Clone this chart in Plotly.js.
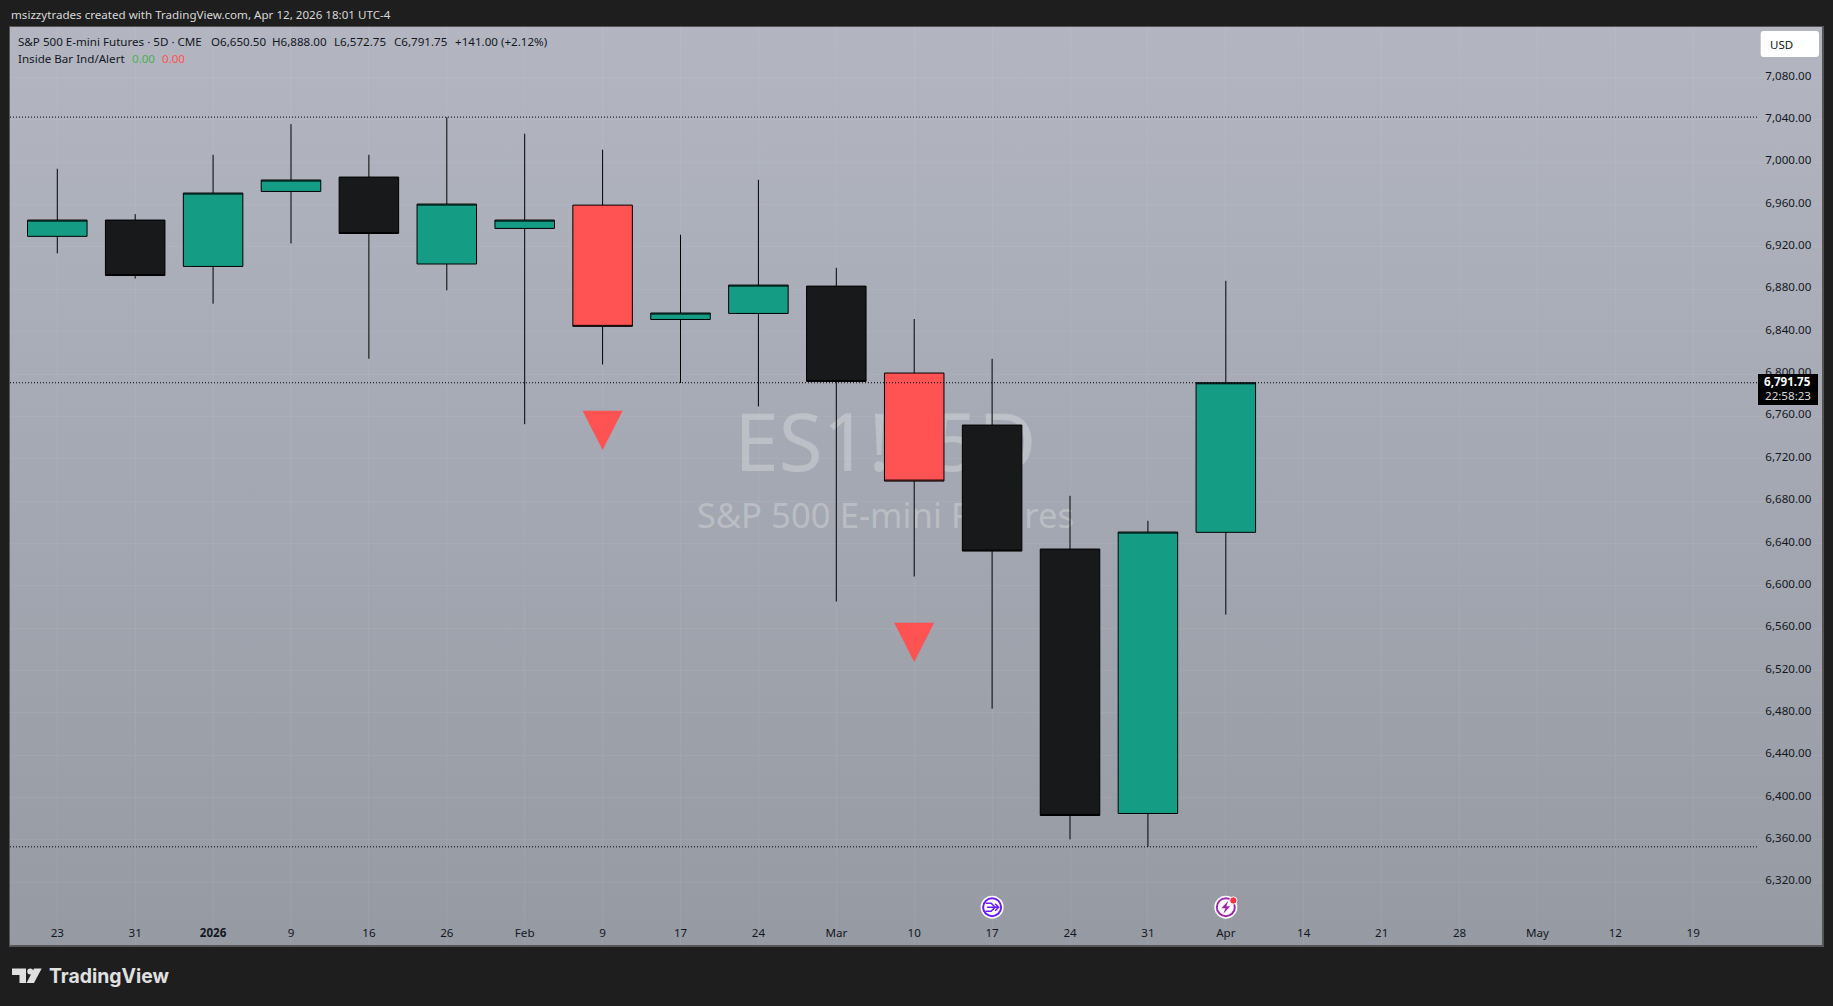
<!DOCTYPE html>
<html>
<head>
<meta charset="utf-8">
<script src="https://cdn.plot.ly/plotly-3.0.1.min.js"></script>
<style>
html,body{margin:0;padding:0;background:#1e1e1e;overflow:hidden;width:1833px;height:1006px}
#bg{position:absolute;left:10px;top:27px;width:1812px;height:918px;background:linear-gradient(#b3b6c1,#969aa3)}
#chart{position:absolute;left:0;top:0;width:1833px;height:1006px}
</style>
</head>
<body>
<div id="bg"></div>
<div id="chart"></div>
<script>
// ---------- data ----------
var barIndex  = [0,1,2,3,4,5,6,7,8,9,10,11,12,13,14,15];
var openS  = [6930.0,6945.4,6901.6,6972.4,6986.0,6903.9,6937.5,6959.5,6851.5,6857.2,6883.0,6800.9,6751.8,6634.7,6385.0,6650.5];
var highS  = [6993.8,6951.0,7007.0,7036.0,7007.0,7042.6,7026.9,7011.8,6931.5,6983.4,6900.3,6851.9,6814.4,6685.0,6661.4,6888.0];
var lowS   = [6913.9,6890.2,6866.4,6923.3,6814.4,6879.0,6752.6,6809.0,6791.5,6769.4,6585.2,6608.8,6483.9,6360.5,6353.5,6572.75];
var closeS = [6945.4,6893.0,6970.9,6983.2,6932.7,6960.5,6945.4,6845.0,6857.6,6884.0,6793.0,6698.9,6632.8,6383.1,6650.75,6791.75];
var insideBars = [7,11];

var signalBars = [7,11];
var signalTop  = [6765.3,6565.1];
var signalTip  = [6728.2,6528.0];

var xTickVals = [0,1,2,3,4,5,6,7,8,9,10,11,12,13,14,15,16,17,18,19,20,21];
var xTickText = ['23','31','<b>2026</b>','9','16','26','Feb','9','17','24','Mar','10','17','24','31','Apr','14','21','28','May','12','19'];
var yTickVals = [6320,6360,6400,6440,6480,6520,6560,6600,6640,6680,6720,6760,6800,6840,6880,6920,6960,7000,7040,7080];

var levelHigh = 7042.6, levelLast = 6791.75, levelLow = 6353.5;
var eventBars = [12,15];
var eventPrice = 6296.5;

// ---------- layout helpers ----------
var PL=10, PT=27, PW=1812, PH=918;
function px(v){return (v-PL)/PW;}
function py(v){return 1-(v-PT)/PH;}
var FONT='"Noto Sans", sans-serif';
var INK='#131722';
var xRange=[-0.607,22.653], yRange=[6260.8,7127.7];
var wmBar=10.63;

function pick(arr,idx){return idx.map(function(i){return arr[i];});}
var normal=barIndex.filter(function(i){return insideBars.indexOf(i)<0;});

var traces=[];
// watermark sits beneath the overlaid candle subplot
traces.push({type:'scatter',mode:'text',x:[wmBar],y:[6727.2],text:['ES1!, 5D'],xaxis:'x',yaxis:'y',
  textfont:{family:FONT,size:80,color:'rgba(255,255,255,0.26)'},textposition:'middle center',hoverinfo:'skip',showlegend:false,cliponaxis:false});
traces.push({type:'scatter',mode:'text',x:[wmBar],y:[6662.7],text:['S&P 500 E-mini Futures'],xaxis:'x',yaxis:'y',
  textfont:{family:FONT,size:34.7,color:'rgba(255,255,255,0.26)'},textposition:'middle center',hoverinfo:'skip',showlegend:false,cliponaxis:false});

traces.push({type:'candlestick',x:normal,open:pick(openS,normal),high:pick(highS,normal),low:pick(lowS,normal),close:pick(closeS,normal),
  xaxis:'x2',yaxis:'y2',whiskerwidth:0,showlegend:false,
  increasing:{line:{color:'#000',width:1},fillcolor:'#159c85'},
  decreasing:{line:{color:'#000',width:1},fillcolor:'#18191b'}});
traces.push({type:'candlestick',x:insideBars,open:pick(openS,insideBars),high:pick(highS,insideBars),low:pick(lowS,insideBars),close:pick(closeS,insideBars),
  xaxis:'x2',yaxis:'y2',whiskerwidth:0,showlegend:false,
  increasing:{line:{color:'#000',width:1},fillcolor:'#ff5252'},
  decreasing:{line:{color:'#000',width:1},fillcolor:'#ff5252'}});

// inside-bar signal triangles
signalBars.forEach(function(b,i){
  traces.push({type:'scatter',mode:'lines',x:[b-0.257,b+0.257,b,b-0.257],y:[signalTop[i],signalTop[i],signalTip[i],signalTop[i]],
    xaxis:'x2',yaxis:'y2',fill:'toself',fillcolor:'#ff5252',line:{width:0,color:'#ff5252'},hoverinfo:'skip',showlegend:false});
});

// event badges
var evY=eventBars.map(function(){return eventPrice;});
traces.push({type:'scatter',mode:'markers',x:eventBars,y:evY,xaxis:'x2',yaxis:'y2',hoverinfo:'skip',showlegend:false,
  marker:{symbol:'circle',size:23,color:'#ffffff'}});
traces.push({type:'scatter',mode:'markers',x:eventBars,y:evY,xaxis:'x2',yaxis:'y2',hoverinfo:'skip',showlegend:false,
  marker:{symbol:'circle',size:18,color:'#ffffff',line:{width:2,color:['#6a1bff','#9c27b0']}}});

var shapes=[];
[levelHigh,levelLast,levelLow].forEach(function(l){
  shapes.push({type:'line',xref:'paper',yref:'y',x0:0,x1:px(1757),y0:l,y1:l,layer:'above',line:{color:'#000',width:1,dash:'1px 2px'}});
});
function rrect(x0,y0,x1,y1,r,fill){
  var rx=r/PW, ry=r/PH, a=px(x0),b=px(x1),t=py(y0),u=py(y1);
  shapes.push({type:'path',xref:'paper',yref:'paper',layer:'above',fillcolor:fill,line:{width:0},
    path:'M'+(a+rx)+' '+t+' L'+(b-rx)+' '+t+' Q'+b+' '+t+' '+b+' '+(t-ry)+' L'+b+' '+(u+ry)+' Q'+b+' '+u+' '+(b-rx)+' '+u+' L'+(a+rx)+' '+u+' Q'+a+' '+u+' '+a+' '+(u+ry)+' L'+a+' '+(t-ry)+' Q'+a+' '+t+' '+(a+rx)+' '+t+' Z'});
}
rrect(1760.7,31,1819,57,3,'#ffffff');
rrect(1758,374,1818,405,0,'#000000');
// icon glyphs anchored on their bars
function iconPath(bar,path,style){
  shapes.push(Object.assign({type:'path',xref:'x2',yref:'y2',xsizemode:'pixel',ysizemode:'pixel',xanchor:bar,yanchor:eventPrice,layer:'above',path:path},style));
}
iconPath(eventBars[0],'M-6.5 4 L-1 4 L3 0 L-1 -4 L-6.5 -4',{line:{color:'#6a1bff',width:1.6}});
iconPath(eventBars[0],'M-5 0 L6 0 M3 3.5 L6.5 0 L3 -3.5',{line:{color:'#6a1bff',width:1.6}});
iconPath(eventBars[1],'M2.5 6.5 L-4.5 -1 L-0.5 -1 L-2.5 -6.5 L4.5 1 L0.5 1 Z',{fillcolor:'#9c27b0',line:{width:0}});
shapes.push({type:'circle',xref:'x2',yref:'y2',xsizemode:'pixel',ysizemode:'pixel',xanchor:eventBars[1],yanchor:eventPrice,layer:'above',
  x0:3.8,x1:11.2,y0:3,y1:10.4,fillcolor:'#f23645',line:{color:'#ffffff',width:1}});
// TradingView logo
function poly(pts,fill){
  var d=pts.map(function(p,i){return (i?'L':'M')+px(p[0])+' '+py(p[1]);}).join(' ')+' Z';
  shapes.push({type:'path',xref:'paper',yref:'paper',layer:'above',path:d,fillcolor:fill,line:{width:0}});
}
poly([[12,968.5],[26,968.5],[26,983],[19.5,983],[19.5,975],[12,975]],'#e0e0e0');
poly([[41.7,968.5],[34,983],[26.5,983],[34,968.5]],'#e0e0e0');
shapes.push({type:'circle',xref:'paper',yref:'paper',layer:'above',x0:px(27.2),x1:px(33.2),y0:py(974.6),y1:py(968.6),fillcolor:'#e0e0e0',line:{width:0}});

var TXT=11.6;
function note(x,y,text,o){
  o=o||{};
  return {xref:'paper',yref:'paper',x:px(x),y:py(y),xanchor:o.anchor||'left',yanchor:'middle',showarrow:false,text:text,align:o.anchor||'left',
    font:{family:o.family||FONT,size:o.size||TXT,color:o.color||INK},borderpad:0,xshift:0,yshift:0};
}
var annotations=[
  note(10,14.4,'msizzytrades created with TradingView.com, Apr 12, 2026 18:01 UTC-4',{color:'#d8d8d8'}),
  note(17,41.7,'S&P 500 E-mini Futures · 5D · CME'),
  note(209.5,41.7,'O6,650.50'),
  note(271,41.7,'H6,888.00'),
  note(333,41.7,'L6,572.75'),
  note(392.5,41.7,'C6,791.75'),
  note(454,41.7,'+141.00 (+2.12%)'),
  note(17,58.7,'Inside Bar Ind/Alert'),
  note(131,58.7,'0.00',{color:'#4caf50'}),
  note(161,58.7,'0.00',{color:'#ff5252'}),
  note(1769,44.5,'USD',{size:11.5}),
  note(1812,381.7,'<b>6,791.75</b>',{anchor:'right',color:'#ffffff'}),
  note(1812,395.7,'22:58:23',{anchor:'right',color:'#dddddd'}),
  note(48,976,'<b>TradingView</b>',{size:19.4,color:'#e0e0e0',family:'Inter, "Noto Sans", sans-serif'})
];

var grid='rgba(255,255,255,0.055)';
var layout={
  width:1833,height:1006,autosize:false,
  margin:{l:PL,r:1833-PL-PW,t:PT,b:1006-PT-PH,pad:0},
  paper_bgcolor:'rgba(0,0,0,0)',plot_bgcolor:'rgba(0,0,0,0)',
  showlegend:false,boxgap:0.236,boxgroupgap:0,dragmode:false,
  xaxis:{type:'linear',range:xRange,tickmode:'array',tickvals:xTickVals,ticktext:xTickText,ticks:'',
    ticklabelposition:'inside',ticklabelstandoff:5,tickfont:{family:FONT,size:TXT,color:INK},
    showgrid:true,gridcolor:grid,gridwidth:1,zeroline:false,showline:true,linecolor:'#555555',linewidth:1.5,mirror:true,fixedrange:true},
  yaxis:{type:'linear',side:'right',range:yRange,tickmode:'array',tickvals:yTickVals,tickformat:',.2f',ticks:'',
    ticklabelposition:'inside',ticklabelstandoff:10,ticklabelshift:-2,tickfont:{family:FONT,size:TXT,color:INK},
    showgrid:true,gridcolor:grid,gridwidth:1,zeroline:false,showline:true,linecolor:'#555555',linewidth:1.5,mirror:true,fixedrange:true},
  xaxis2:{type:'linear',overlaying:'x',range:xRange,visible:false,fixedrange:true,rangeslider:{visible:false}},
  yaxis2:{type:'linear',overlaying:'y',range:yRange,visible:false,fixedrange:true},
  shapes:shapes,annotations:annotations
};
Plotly.newPlot('chart',traces,layout,{displayModeBar:false,staticPlot:true});
</script>
</body>
</html>
